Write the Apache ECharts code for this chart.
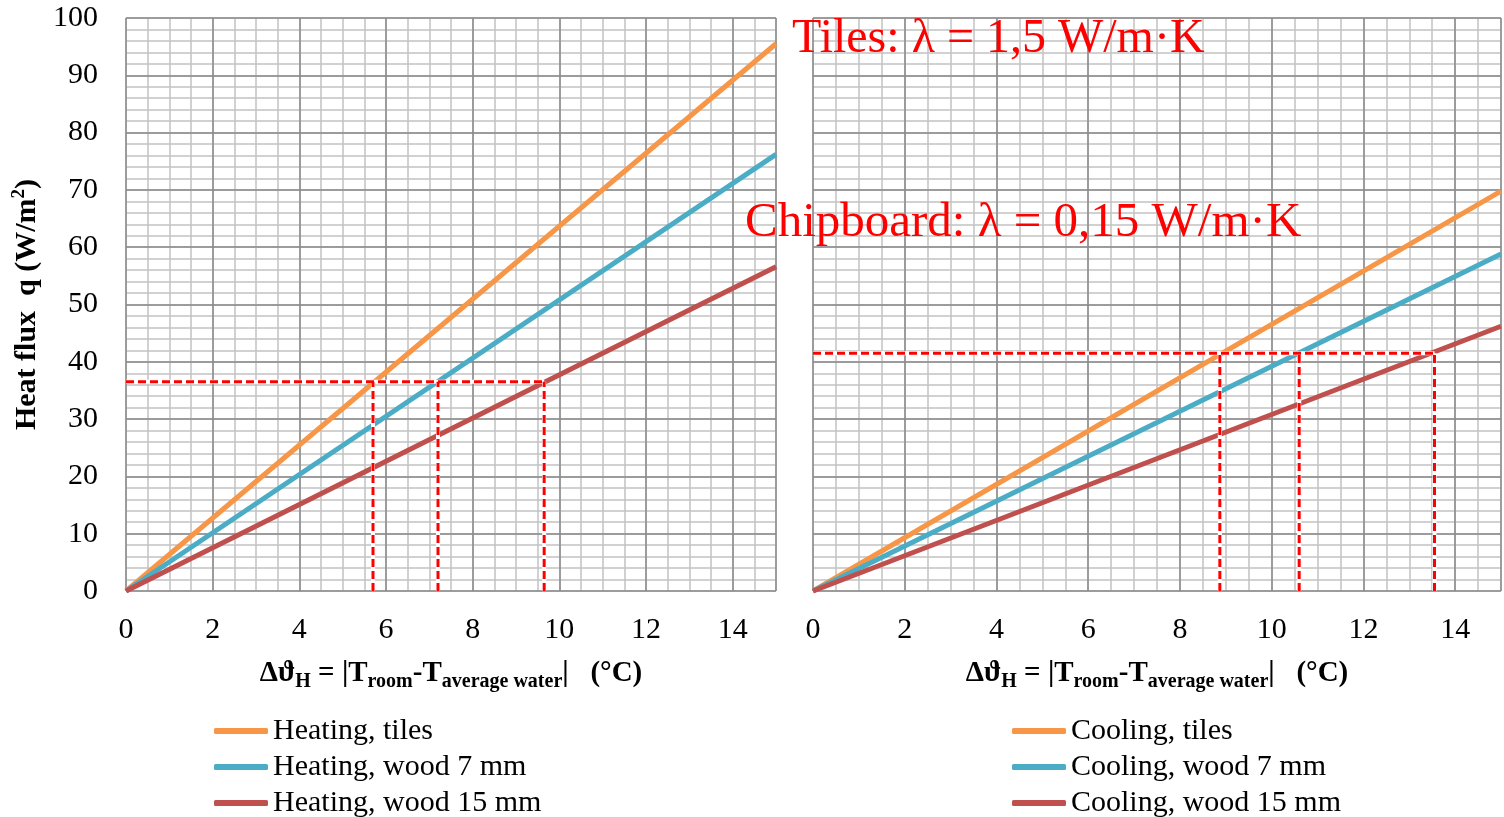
<!DOCTYPE html>
<html>
<head>
<meta charset="utf-8">
<script src="https://cdn.jsdelivr.net/npm/echarts@6/dist/echarts.min.js"></script>
<style>
html,body{margin:0;padding:0;background:#fff;}
#main{width:1504px;height:817px;}
</style>
</head>
<body>
<div id="main"></div>
<script>
// ---- data ----
const deltaT = [0, 15];
const heatingTiles = [0, 95.5];
const heatingWood7 = [0, 76.2];
const heatingWood15 = [0, 56.6];
const coolingTiles = [0, 69.8];
const coolingWood7 = [0, 58.8];
const coolingWood15 = [0, 46.2];
const heatingReadQ = 36.5;
const heatingReadDT = [5.7, 7.2, 9.65];
const coolingReadQ = 41.5;
const coolingReadDT = [8.87, 10.6, 13.55];
const xTickLabels = ['0', '2', '4', '6', '8', '10', '12', '14'];
const yTickLabels = ['0', '10', '20', '30', '40', '50', '60', '70', '80', '90', '100'];
const heatingNames = ['Heating, tiles', 'Heating, wood 7 mm', 'Heating, wood 15 mm'];
const coolingNames = ['Cooling, tiles', 'Cooling, wood 7 mm', 'Cooling, wood 15 mm'];
const seriesColors = ['#F79646', '#4BACC6', '#C0504D'];

const FONT = '"Liberation Serif", "DejaVu Serif", serif';
const MAJOR = '#8a8a8a';
const MINOR = '#c2c2c2';

function zip(xs, ys) { return xs.map((x, i) => [x, ys[i]]); }

function xAxes(grid) {
  return [
    {
      type: 'value', gridIndex: grid, min: 0, max: 15, interval: 2, z: 1,
      axisLine: { show: false }, axisTick: { show: false },
      axisLabel: {
        margin: 24, fontFamily: FONT, fontSize: 30, color: '#000',
        formatter: v => xTickLabels.includes(String(v)) ? String(v) : ''
      },
      splitLine: { show: true, lineStyle: { color: MAJOR, width: 1.5 } },
      name: '{b|Δϑ}{s|H}{b| = |T}{s|room}{b|-T}{s|average water}{b||   (°C)}',
      nameLocation: 'middle', nameGap: 65,
      nameTextStyle: {
        rich: {
          b: { fontFamily: FONT, fontWeight: 'bold', fontSize: 29, color: '#000', lineHeight: 36 },
          s: { fontFamily: FONT, fontWeight: 'bold', fontSize: 20, color: '#000', lineHeight: 36, verticalAlign: 'bottom' }
        }
      }
    },
    {
      type: 'value', gridIndex: grid, min: 0, max: 15, interval: 0.5, z: 0,
      axisLine: { show: false }, axisTick: { show: false }, axisLabel: { show: false },
      splitLine: { show: true, lineStyle: { color: MINOR, width: 1.5 } }
    }
  ];
}

function yAxes(grid, showLabels) {
  const major = {
    type: 'value', gridIndex: grid, min: 0, max: 100, interval: 10, z: 1,
    axisLine: { show: false }, axisTick: { show: false },
    axisLabel: {
      show: showLabels, margin: 28, fontFamily: FONT, fontSize: 30, color: '#000',
      formatter: v => yTickLabels.includes(String(v)) ? String(v) : ''
    },
    splitLine: { show: true, lineStyle: { color: MAJOR, width: 1.5 } }
  };
  if (showLabels) {
    major.name = '{n|Heat flux  q (W/m}{p|2}{n|)}';
    major.nameLocation = 'middle';
    major.nameGap = 82;
    major.nameTextStyle = {
      rich: {
        n: { fontFamily: FONT, fontWeight: 'bold', fontSize: 30, color: '#000', lineHeight: 34 },
        p: { fontFamily: FONT, fontWeight: 'bold', fontSize: 19, color: '#000', lineHeight: 34, verticalAlign: 'top' }
      }
    };
  }
  return [
    major,
    {
      type: 'value', gridIndex: grid, min: 0, max: 100, interval: 2, z: 0,
      axisLine: { show: false }, axisTick: { show: false }, axisLabel: { show: false },
      splitLine: { show: true, lineStyle: { color: MINOR, width: 1.5 } }
    }
  ];
}

function mainSeries(names, values, xi, yi) {
  return names.map((n, i) => ({
    name: n, type: 'line', xAxisIndex: xi, yAxisIndex: yi,
    showSymbol: false, symbol: 'none', z: 3,
    lineStyle: { color: seriesColors[i], width: 5 },
    itemStyle: { color: seriesColors[i] },
    data: zip(deltaT, values[i])
  }));
}

function readingSeries(q, dts, xi, yi) {
  const segs = [[[0, q], [Math.max(...dts), q]]];
  dts.forEach(d => segs.push([[d, 0], [d, q]]));
  const out = [];
  segs.forEach(s => {
    out.push({ type: 'line', xAxisIndex: xi, yAxisIndex: yi, showSymbol: false, symbol: 'none', z: 4,
      silent: true, lineStyle: { color: '#ffffff', width: 4 }, data: s });
    out.push({ type: 'line', xAxisIndex: xi, yAxisIndex: yi, showSymbol: false, symbol: 'none', z: 5,
      silent: true, lineStyle: { color: '#ff0000', width: 3, type: [8, 4] }, data: s });
  });
  return out;
}

const chart = echarts.init(document.getElementById('main'));
const legendBase = {
  orient: 'vertical', top: 716, height: 140, padding: 0,
  itemWidth: 54, itemHeight: 6, itemGap: 6, icon: 'roundRect',
  textStyle: { fontFamily: FONT, fontSize: 30, color: '#000' }
};
chart.setOption({
  animation: false,
  backgroundColor: '#fff',
  grid: [
    { left: 126, top: 18, width: 650, height: 573 },
    { left: 813, top: 18, width: 690, height: 573 }
  ],
  xAxis: [...xAxes(0), ...xAxes(1)],
  yAxis: [...yAxes(0, true), ...yAxes(1, false)],
  legend: [
    Object.assign({}, legendBase, { left: 214, data: heatingNames }),
    Object.assign({}, legendBase, { left: 1012, data: coolingNames })
  ],
  series: [
    ...mainSeries(heatingNames, [heatingTiles, heatingWood7, heatingWood15], 0, 0),
    ...mainSeries(coolingNames, [coolingTiles, coolingWood7, coolingWood15], 2, 2),
    ...readingSeries(heatingReadQ, heatingReadDT, 0, 0),
    ...readingSeries(coolingReadQ, coolingReadDT, 2, 2)
  ],
  graphic: [
    { type: 'text', left: 792, top: 15, z: 10,
      style: { text: 'Tiles: λ = 1,5 W/m·K', font: '48px ' + FONT, fill: '#ff0000' } },
    { type: 'text', left: 745, top: 199, z: 10,
      style: { text: 'Chipboard: λ = 0,15 W/m·K', font: '49px ' + FONT, fill: '#ff0000' } }
  ]
});
</script>
</body>
</html>
